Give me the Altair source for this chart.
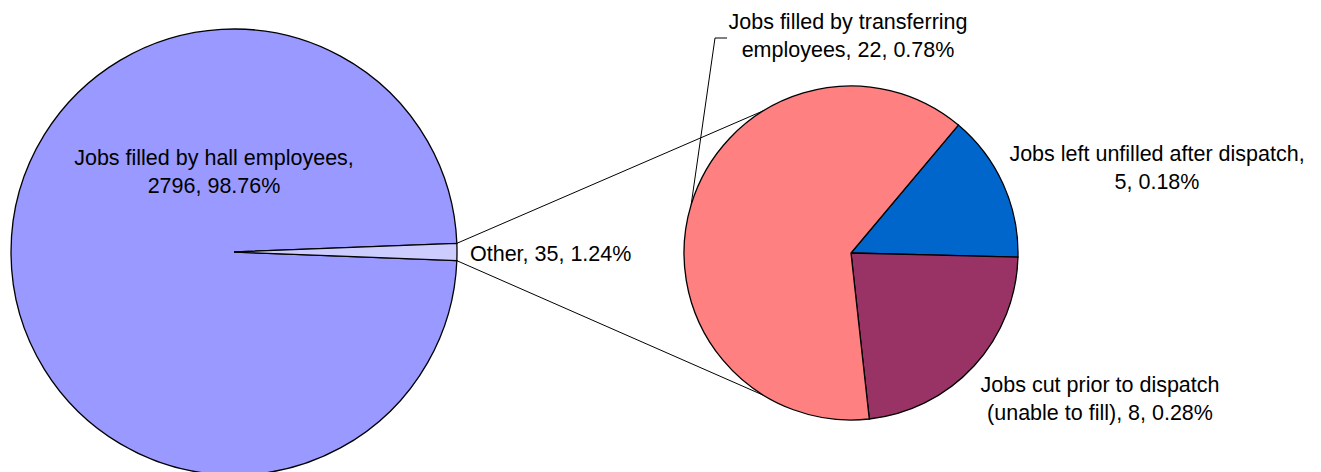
import math
import pandas as pd
import altair as alt

# ---- data ----
main_cats = ["Jobs filled by hall employees", "Other"]
main_vals = [2796, 35]
sub_cats = ["Jobs left unfilled after dispatch",
            "Jobs cut prior to dispatch (unable to fill)",
            "Jobs filled by transferring employees"]
sub_vals = [5, 8, 22]

# ---- styling / layout ----
main_colors = ["#9999FF", "#CCCCFF"]
sub_colors = ["#0066CC", "#993366", "#FF8080"]
W, H = 1321, 472
C1, R1 = (234, 252), 223
C2, R2 = (851, 253), 167
SUB_START = math.radians(40)
CONN_ANG = [math.radians(328.5), math.radians(211.5)]
FONT = "Liberation Sans"
FS = 21.5
LH = 27.5

total = sum(main_vals)
other_total = sum(sub_vals)


def pct(v):
    return f"{100 * v / total:.2f}%"


# label text
lab = {
    main_cats[0]: f"{main_cats[0]},\n{main_vals[0]}, {pct(main_vals[0])}",
    main_cats[1]: f"{main_cats[1]}, {main_vals[1]}, {pct(main_vals[1])}",
    sub_cats[0]: f"Jobs left unfilled after dispatch,\n{sub_vals[0]}, {pct(sub_vals[0])}",
    sub_cats[1]: f"Jobs cut prior to dispatch\n(unable to fill), {sub_vals[1]}, {pct(sub_vals[1])}",
    sub_cats[2]: f"Jobs filled by transferring\nemployees, {sub_vals[2]}, {pct(sub_vals[2])}",
}
label_pos = {
    main_cats[0]: (214, 165),
    main_cats[1]: (470, 261),
    sub_cats[0]: (1157, 161),
    sub_cats[1]: (1100, 392),
    sub_cats[2]: (848, 29),
}

# ---- left pie ----
other_half = math.pi * main_vals[1] / total
main_start = math.pi / 2 - other_half
df_main = pd.DataFrame({
    "cat": main_cats,
    "val": main_vals,
    "ord": [1, 0],
})
pie1 = alt.Chart(df_main).mark_arc(
    radius=R1, stroke="black", strokeWidth=1.3
).encode(
    theta=alt.Theta("val:Q", stack=True,
                    scale=alt.Scale(range=[main_start, main_start + 2 * math.pi])),
    order=alt.Order("ord:Q"),
    color=alt.Color("cat:N", scale=alt.Scale(domain=main_cats, range=main_colors), legend=None),
    x=alt.value(C1[0]),
    y=alt.value(C1[1]),
)

# ---- right pie ----
df_sub = pd.DataFrame({
    "cat": sub_cats,
    "val": sub_vals,
    "ord": [0, 1, 2],
})
pie2 = alt.Chart(df_sub).mark_arc(
    radius=R2, stroke="black", strokeWidth=1.3
).encode(
    theta=alt.Theta("val:Q", stack=True,
                    scale=alt.Scale(range=[SUB_START, SUB_START + 2 * math.pi])),
    order=alt.Order("ord:Q"),
    color=alt.Color("cat:N", scale=alt.Scale(domain=sub_cats, range=sub_colors), legend=None),
    x=alt.value(C2[0]),
    y=alt.value(C2[1]),
)


def pt(c, r, a):
    return c[0] + r * math.sin(a), c[1] - r * math.cos(a)


# ---- connector and leader lines (geometry from the pies) ----
a_top = main_start
a_bot = main_start + 2 * other_half
p_top = pt(C1, R1, a_top)
p_bot = pt(C1, R1, a_bot)
q_top = pt(C2, R2, CONN_ANG[0])
q_bot = pt(C2, R2, CONN_ANG[1])
# leader from transferring label to its slice mid-angle
acc = SUB_START + 2 * math.pi * (sub_vals[0] + sub_vals[1]) / other_total
mid = acc + math.pi * sub_vals[2] / other_total
lp = pt(C2, R2, mid)
knee = (715, 38)
tail = (727, 38)
segs = pd.DataFrame({
    "x": [p_top[0], p_bot[0], tail[0], knee[0]],
    "y": [p_top[1], p_bot[1], tail[1], knee[1]],
    "x2": [q_top[0], q_bot[0], knee[0], lp[0]],
    "y2": [q_top[1], q_bot[1], knee[1], lp[1]],
})
rules = alt.Chart(segs).mark_rule(color="black", strokeWidth=1).encode(
    x=alt.X("x:Q", scale=None, axis=None),
    y=alt.Y("y:Q", scale=None, axis=None),
    x2="x2:Q",
    y2="y2:Q",
)

# ---- labels ----
center_keys = [main_cats[0], sub_cats[0], sub_cats[1], sub_cats[2]]
df_lab_c = pd.DataFrame({
    "t": [lab[k] for k in center_keys],
    "x": [label_pos[k][0] for k in center_keys],
    "y": [label_pos[k][1] for k in center_keys],
})
df_lab_l = pd.DataFrame({
    "t": [lab[main_cats[1]]],
    "x": [label_pos[main_cats[1]][0]],
    "y": [label_pos[main_cats[1]][1]],
})
txt_c = alt.Chart(df_lab_c).mark_text(
    align="center", baseline="alphabetic", font=FONT, fontSize=FS,
    lineBreak="\n", lineHeight=LH, color="black"
).encode(
    x=alt.X("x:Q", scale=None, axis=None),
    y=alt.Y("y:Q", scale=None, axis=None),
    text="t:N",
)
txt_l = alt.Chart(df_lab_l).mark_text(
    align="left", baseline="alphabetic", font=FONT, fontSize=FS,
    lineBreak="\n", lineHeight=LH, color="black"
).encode(
    x=alt.X("x:Q", scale=None, axis=None),
    y=alt.Y("y:Q", scale=None, axis=None),
    text="t:N",
)

chart = alt.layer(rules, pie1, pie2, txt_c, txt_l).resolve_scale(
    theta="independent", color="independent"
).properties(
    width=W, height=H, autosize="none", padding=0, background="white"
).configure_view(stroke=None)

chart.save("out.html", embed_options={"renderer": "svg", "actions": False})
